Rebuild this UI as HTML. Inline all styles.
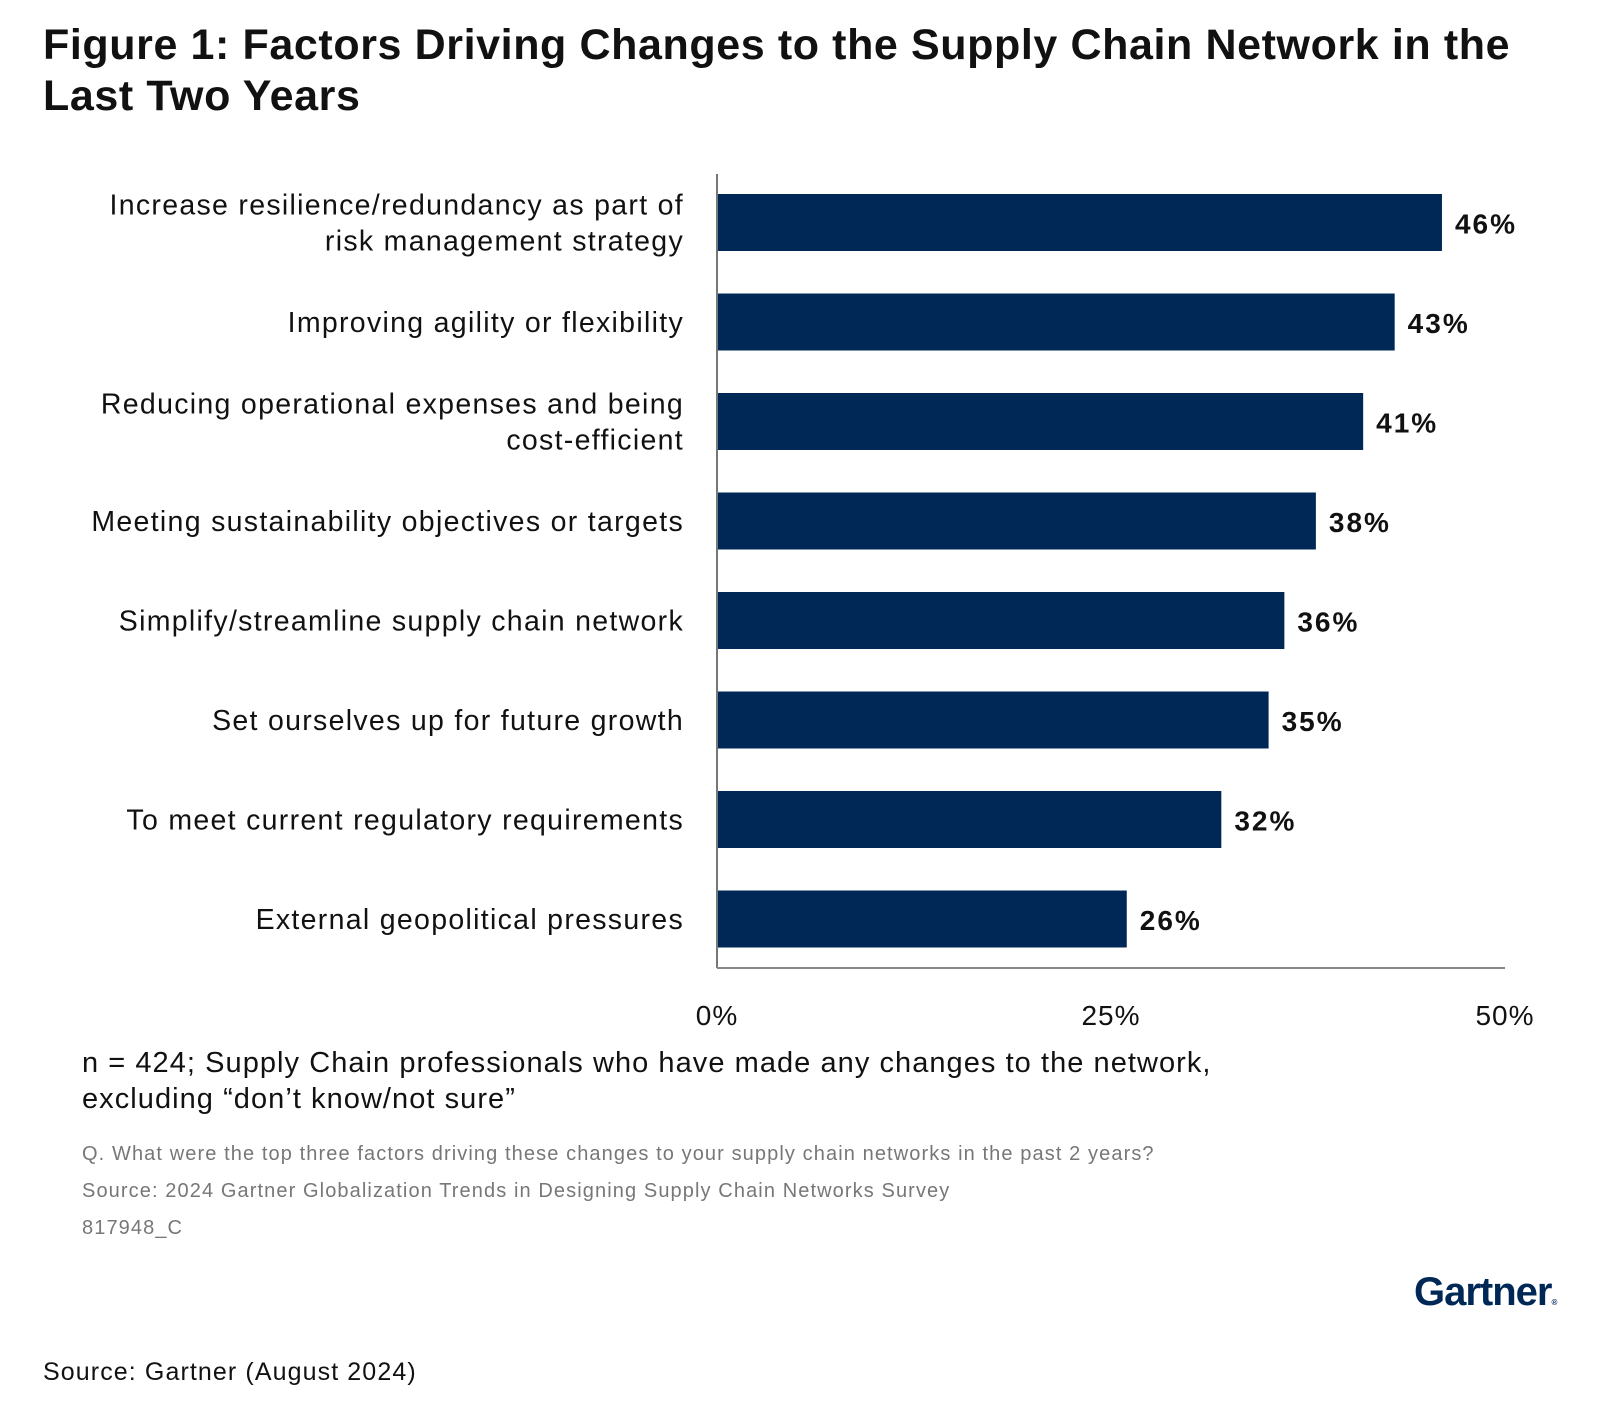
<!DOCTYPE html>
<html><head><meta charset="utf-8"><style>
body{margin:0;width:1600px;height:1416px;background:#fff;font-family:"Liberation Sans",sans-serif;position:relative;overflow:hidden}
.t{position:absolute;white-space:nowrap}
</style></head><body>
<div class="t" style="left:43px;top:20px;font-size:43px;font-weight:bold;line-height:51px;color:#111;letter-spacing:0.6px">Figure 1: Factors Driving Changes to the Supply Chain Network in the<br>Last Two Years</div>
<svg id="chart" width="1600" height="1040" style="position:absolute;left:0;top:0"></svg>
<div class="t" style="left:82px;top:1045px;font-size:29px;line-height:36px;color:#111;letter-spacing:1.05px">n = 424; Supply Chain professionals who have made any changes to the network,<br>excluding “don’t know/not sure”</div>
<div class="t" style="left:82px;top:1136px;font-size:20px;line-height:37px;color:#777;letter-spacing:1.1px">Q. What were the top three factors driving these changes to your supply chain networks in the past 2 years?<br>Source: 2024 Gartner Globalization Trends in Designing Supply Chain Networks Survey<br>817948_C</div>
<div class="t" style="left:1414px;top:1270px;font-size:40px;font-weight:bold;color:#002856;letter-spacing:-1px">Gartner<span style="font-size:8px">®</span></div>
<div class="t" style="left:43px;top:1358px;font-size:25px;color:#111;letter-spacing:1.1px">Source: Gartner (August 2024)</div>
<script>
const categories=["Increase resilience/redundancy as part of|risk management strategy","Improving agility or flexibility","Reducing operational expenses and being|cost-efficient","Meeting sustainability objectives or targets","Simplify/streamline supply chain network","Set ourselves up for future growth","To meet current regulatory requirements","External geopolitical pressures"];
const values=[46,43,41,38,36,35,32,26];
const ticks=[0,25,50];
const svg=document.getElementById('chart');const NS='http://www.w3.org/2000/svg';
const x0=717,x1=1505,xmax=50,top0=194,pitch=99.5,bh=57;
const xs=v=>x0+(x1-x0)*v/xmax;
function mk(t,a,txt){const e=document.createElementNS(NS,t);for(const k in a)e.setAttribute(k,a[k]);if(txt!=null)e.textContent=txt;svg.appendChild(e);return e;}
values.forEach((v,i)=>{const y=top0+i*pitch;
const r=mk('rect',{x:x0,y:y,width:xs(v)-x0,height:bh,fill:'#002856'});


const l=mk('text',{x:xs(v)+13,y:y+bh/2+11,'font-size':28,'font-weight':'bold',fill:'#111','letter-spacing':2},v+'%');


const lines=categories[i].split('|');
lines.forEach((s,j)=>{const ty=y+bh/2+10+(j-(lines.length-1)/2)*36;
const c=mk('text',{x:684,y:ty,'text-anchor':'end','font-size':28.5,fill:'#111','letter-spacing':1.3},s);

});
});
const ya=mk('line',{x1:x0,y1:174,x2:x0,y2:968,stroke:'#777','stroke-width':2});


const xa=mk('line',{x1:x0,y1:968,x2:x1,y2:968,stroke:'#888','stroke-width':2});


ticks.forEach(t=>{const e=mk('text',{x:xs(t),y:1025,'text-anchor':'middle','font-size':28,fill:'#111','letter-spacing':1},t+'%');

});
</script>
</body></html>
